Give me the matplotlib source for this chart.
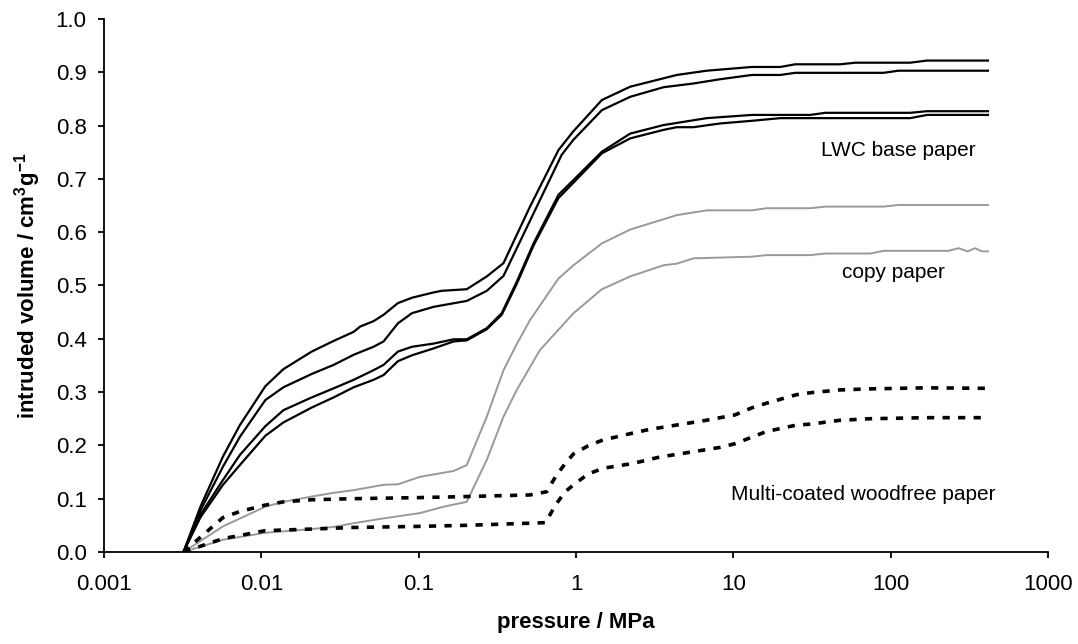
import matplotlib
matplotlib.use("Agg")
import matplotlib.pyplot as plt
from matplotlib.ticker import FixedLocator, FixedFormatter

plt.rcParams['font.family'] = ['Liberation Sans', 'DejaVu Sans']
plt.rcParams['mathtext.fontset'] = 'custom'
plt.rcParams['mathtext.rm'] = 'Liberation Sans'
plt.rcParams['mathtext.bf'] = 'Liberation Sans:bold'

# LWC base paper (four runs)
lwc1_p = [0.0032, 0.0041, 0.0057, 0.0073, 0.0106, 0.0138, 0.0209, 0.0288, 0.0386, 0.0425, 0.0516,
          0.0598, 0.0738, 0.0906, 0.1245, 0.140, 0.202, 0.271, 0.346, 0.51, 0.773, 0.96, 1.46, 2.21,
          4.37, 6.78, 13.1, 19.9, 24.7, 47.8, 59.5, 133, 170, 415]
lwc1_v = [0, 0.085, 0.179, 0.238, 0.311, 0.343, 0.376, 0.396, 0.413, 0.423, 0.433,
          0.445, 0.467, 0.477, 0.487, 0.490, 0.493, 0.517, 0.542, 0.648, 0.754, 0.789, 0.848, 0.873,
          0.895, 0.903, 0.910, 0.910, 0.915, 0.915, 0.918, 0.918, 0.922, 0.922]

lwc2_p = [0.0032, 0.0041, 0.0057, 0.0073, 0.0106, 0.0138, 0.0209, 0.0288, 0.0386, 0.0516, 0.0598,
          0.0738, 0.0906, 0.1245, 0.202, 0.271, 0.346, 0.81, 0.96, 1.46, 2.21, 3.6, 5.58, 8.24,
          13.1, 19.9, 24.7, 90, 112, 415]
lwc2_v = [0, 0.078, 0.16, 0.216, 0.285, 0.309, 0.334, 0.351, 0.370, 0.385, 0.395,
          0.429, 0.448, 0.460, 0.471, 0.490, 0.518, 0.745, 0.773, 0.829, 0.854, 0.872, 0.879, 0.887,
          0.895, 0.895, 0.899, 0.899, 0.903, 0.903]

lwc3_p = [0.0032, 0.0041, 0.0057, 0.0073, 0.0106, 0.0138, 0.0209, 0.0288, 0.0386, 0.0516, 0.0598,
          0.0738, 0.0906, 0.1245, 0.1667, 0.202, 0.271, 0.337, 0.42, 0.537, 0.773, 0.964, 1.46, 2.21,
          3.6, 4.37, 6.78, 13.1, 30.8, 38.4, 133, 170, 415]
lwc3_v = [0, 0.07, 0.135, 0.182, 0.236, 0.266, 0.290, 0.307, 0.323, 0.341, 0.351,
          0.376, 0.385, 0.391, 0.399, 0.399, 0.420, 0.448, 0.507, 0.579, 0.670, 0.698, 0.751, 0.785,
          0.801, 0.805, 0.814, 0.820, 0.820, 0.824, 0.824, 0.827, 0.827]

lwc4_p = [0.0032, 0.0041, 0.0057, 0.0073, 0.0106, 0.0138, 0.0209, 0.0288, 0.0386, 0.0516, 0.0598,
          0.0738, 0.0906, 0.1245, 0.1667, 0.202, 0.271, 0.337, 0.42, 0.537, 0.773, 0.964, 1.46, 2.21,
          3.6, 4.37, 5.58, 8.24, 13.1, 19.9, 133, 170, 415]
lwc4_v = [0, 0.065, 0.126, 0.163, 0.218, 0.243, 0.271, 0.290, 0.309, 0.323, 0.332,
          0.358, 0.369, 0.382, 0.395, 0.397, 0.418, 0.445, 0.503, 0.575, 0.664, 0.693, 0.748, 0.776,
          0.792, 0.797, 0.797, 0.804, 0.809, 0.814, 0.814, 0.820, 0.820]

# copy paper (two runs)
copy1_p = [0.0032, 0.0057, 0.0106, 0.0138, 0.0209, 0.0288, 0.0386, 0.0598, 0.0738, 0.102, 0.1667,
           0.202, 0.271, 0.346, 0.42, 0.51, 0.773, 0.964, 1.46, 2.21, 4.37, 6.78, 13.1, 16.3,
           30.8, 38.4, 90, 112, 415]
copy1_v = [0, 0.048, 0.085, 0.094, 0.104, 0.111, 0.116, 0.126, 0.127, 0.141, 0.152,
           0.163, 0.254, 0.341, 0.39, 0.435, 0.513, 0.538, 0.579, 0.605, 0.632, 0.641, 0.641, 0.645,
           0.645, 0.648, 0.648, 0.651, 0.651]

copy2_p = [0.0032, 0.0057, 0.0106, 0.0209, 0.0288, 0.0386, 0.0598, 0.102, 0.144, 0.202, 0.271,
           0.346, 0.42, 0.59, 0.964, 1.46, 2.21, 3.6, 4.37, 5.58, 13.1, 16.3, 30.8, 38.4, 74.1,
           90, 233, 270, 308, 344, 380, 415]
copy2_v = [0, 0.023, 0.036, 0.043, 0.047, 0.054, 0.063, 0.073, 0.085, 0.094, 0.173,
           0.254, 0.304, 0.379, 0.448, 0.493, 0.517, 0.538, 0.541, 0.551, 0.554, 0.557, 0.557, 0.560, 0.560,
           0.565, 0.565, 0.570, 0.564, 0.570, 0.564, 0.564]

# multi-coated woodfree paper (two runs)
mwf1_p = [0.0032, 0.0057, 0.0073, 0.0106, 0.0138, 0.0209, 0.0386, 0.1, 0.2, 0.51, 0.65, 0.74,
          0.853, 0.964, 1.19, 1.48, 2.29, 2.93, 4.32, 6.70, 10.2, 13.0, 16.2, 25.1, 31.3, 47.3,
          73.4, 168, 415]
mwf1_v = [0, 0.0645, 0.076, 0.088, 0.094, 0.098, 0.100, 0.102, 0.104, 0.107, 0.113, 0.141,
          0.166, 0.184, 0.199, 0.210, 0.223, 0.230, 0.238, 0.247, 0.257, 0.270, 0.279, 0.295, 0.299, 0.304,
          0.306, 0.308, 0.307]

mwf2_p = [0.0032, 0.0057, 0.0106, 0.0209, 0.0386, 0.1, 0.2, 0.51, 0.64, 0.74, 0.853, 0.964,
          1.19, 1.48, 2.29, 3.39, 5.52, 8.15, 10.2, 13.0, 16.2, 25.1, 31.3, 47.3, 73.4, 168, 415]
mwf2_v = [0, 0.025, 0.040, 0.043, 0.046, 0.048, 0.050, 0.054, 0.055, 0.088, 0.113, 0.126,
          0.146, 0.157, 0.166, 0.178, 0.188, 0.196, 0.203, 0.215, 0.226, 0.238, 0.240, 0.247, 0.250, 0.252, 0.252]

x_ticks = [0.001, 0.01, 0.1, 1, 10, 100, 1000]
x_labels = ['0.001', '0.01', '0.1', '1', '10', '100', '1000']
y_ticks = [0.0, 0.1, 0.2, 0.3, 0.4, 0.5, 0.6, 0.7, 0.8, 0.9, 1.0]

fig = plt.figure(figsize=(10.78, 6.44), dpi=100)
ax = fig.add_axes([0.0965, 0.1429, 0.8757, 0.8276])

for p, v in [(lwc1_p, lwc1_v), (lwc2_p, lwc2_v), (lwc3_p, lwc3_v), (lwc4_p, lwc4_v)]:
    ax.plot(p, v, color='black', lw=1.6)
for p, v in [(copy1_p, copy1_v), (copy2_p, copy2_v)]:
    ax.plot(p, v, color='#999999', lw=1.4)
for p, v in [(mwf1_p, mwf1_v), (mwf2_p, mwf2_v)]:
    ax.plot(p, v, color='black', lw=2.6, linestyle=(0, (2, 2.3)))

ax.set_xscale('log')
ax.set_xlim(0.001, 1000)
ax.set_ylim(0, 1.0)
ax.xaxis.set_major_locator(FixedLocator(x_ticks))
ax.xaxis.set_major_formatter(FixedFormatter(x_labels))
ax.xaxis.set_minor_locator(FixedLocator([]))
ax.set_yticks(y_ticks)
ax.set_yticklabels(['%.1f' % t for t in y_ticks])

for s in ['top', 'right']:
    ax.spines[s].set_visible(False)
for s in ['left', 'bottom']:
    ax.spines[s].set_linewidth(1.3)
ax.tick_params(axis='both', direction='out', length=4.5, width=1.3, labelsize=16)
ax.tick_params(axis='x', pad=11)
ax.tick_params(axis='y', pad=8)

ax.set_xlabel('pressure / MPa', fontsize=16, fontweight='bold')
ax.xaxis.set_label_coords(0.5, -0.133)
ax.xaxis.label.set_va('center')
ax.set_ylabel(r'intruded volume / cm$^{\mathbf{3}}$g$^{\mathbf{-1}}$', fontsize=16, fontweight='bold')
ax.yaxis.set_label_coords(-0.0805, 0.5)
ax.yaxis.label.set_va('center')

ax.text(111, 0.754, 'LWC base paper', fontsize=15, ha='center', va='center')
ax.text(104, 0.524, 'copy paper', fontsize=15, ha='center', va='center')
ax.text(67, 0.107, 'Multi-coated woodfree paper', fontsize=15, ha='center', va='center')

fig.savefig('out.png', dpi=100)
